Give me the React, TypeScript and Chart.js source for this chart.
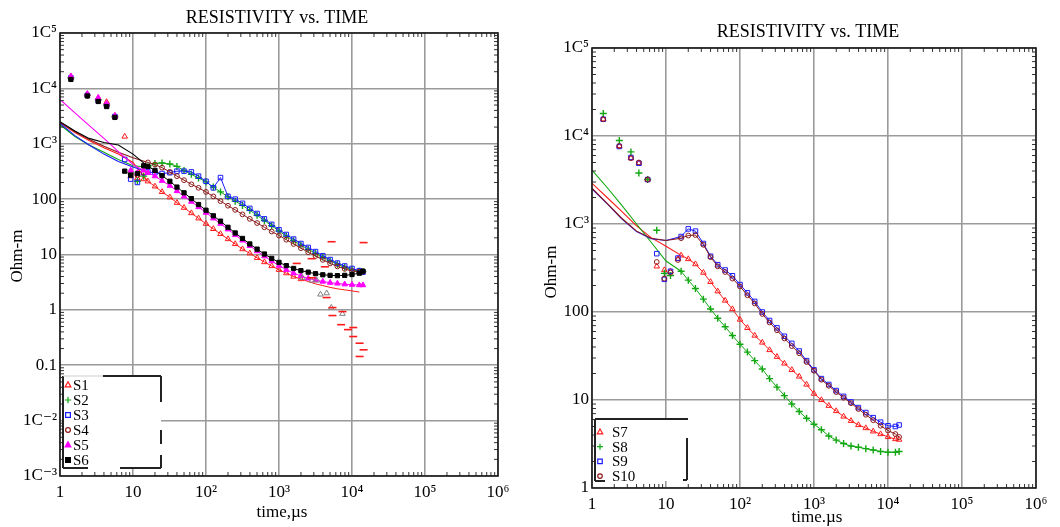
import React, { useEffect, useRef } from "react";
import { Chart, registerables } from "chart.js";

Chart.register(...registerables);

const SERIF = "'Liberation Serif', 'DejaVu Serif', serif";

// ---------- axis ticks ----------
const X_TICKS = [1, 10, 100, 1000, 10000, 100000, 1000000];
const X_TICK_LABELS = ["1", "10", "10²", "10³", "10⁴", "10⁵", "10⁶"];
const Y_TICKS_LEFT = [0.001, 0.01, 0.1, 1, 10, 100, 1000, 10000, 100000];
const Y_TICK_LABELS_LEFT = ["1C⁻³", "1C⁻²", "0.1", "1", "10", "100", "1C³", "1C⁴", "1C⁵"];
const Y_TICKS_RIGHT = [1, 10, 100, 1000, 10000, 100000];
const Y_TICK_LABELS_RIGHT = ["1", "10", "100", "1C³", "1C⁴", "1C⁵"];

// ---------- time grids (µs) ----------
const T_MAIN = [16, 20, 25, 32, 40, 50, 63, 79, 100, 126, 158, 200, 251, 316, 398, 501, 631, 794, 1000, 1259, 1585, 1995, 2512, 3162, 3981, 5012, 6310, 7943, 10000, 12589, 14125];
const T_EARLY = [1, 1.6, 2.5, 4, 6.3, 10, 16];
const T_SCAT_LEFT = [1.41, 2.37, 3.34, 4.35, 5.65, 7.7, 9.3, 11.5, 14];
const T_SCAT_RIGHT = [1.42, 2.34, 3.36, 4.3, 5.65, 7.5, 9.5, 11.5, 14.5];

// ---------- left chart series (Ohm-m) ----------
const S1_MAIN = [210, 170, 135, 108, 86, 70, 56, 45, 36, 29, 23.5, 19, 15.5, 12.5, 10.5, 8.7, 7.3, 6.2, 5.3, 4.6, 4.0, 3.6, null, null, null, null, null, null, null, null, null];
const S1_TAIL = [null, null, null, null, null, null, null, null, null, null, null, null, null, null, null, null, null, null, null, null, null, 3.6, 3.25, 2.95, 2.75, 2.55, 2.4, 2.3, 2.2, 2.1, null];
const S1_EARLY = [2400, 1600, 1150, 850, 650, 460, 210];
const S1_SCAT = [16500, 7800, 6700, 5700, 3200, 1350, 260, 240, 230];

const S2_MAIN = [380, 440, 450, 430, 390, 330, 280, 240, 205, 165, 135, 110, 92, 77, 63, 51, 41, 33, 26.5, 21.5, 17.8, 14.8, 12.4, 10.5, 9.0, 7.7, 6.7, 5.9, 5.3, 5.0, 4.9];
const S2_EARLY = [2200, 1350, 950, 700, 520, 400, 380];
const S2_SCAT = [15500, 7600, 6200, 5000, 3100, null, 300, 210, 260];

const S3_MAIN = [310, 300, 290, 300, 320, 320, 310, 260, 210, 160, 245, 112, 100, 84, 68, 55, 44, 35, 28, 23, 19, 15.8, 13.4, 11.3, 9.5, 8.1, 7.0, 6.2, 5.6, 5.1, 4.8];
const S3_EARLY = [2350, 1400, 950, 650, 480, 380, 310];
const S3_SCAT = [15500, 7500, 6000, 4900, 3100, 520, 230, 200, 300];

const S4_MAIN = [460, 420, 370, 310, 260, 220, 185, 160, 135, 112, 92, 76, 64, 53, 44, 37, 31, 26, 22, 18.5, 15.5, 13, 11, 9.4, 8.0, 6.9, 6.1, 5.5, 5.0, 4.9, 4.9];
const S4_EARLY = [2450, 1650, 1200, 900, 700, 560, 460];
const S4_SCAT = [15000, 7400, 6000, 4800, 3000, null, 280, 270, 300];

const S5_MAIN = [300, 260, 215, 175, 140, 112, 90, 72, 57, 45, 36, 28.5, 22.5, 18, 14.3, 11.5, 9.3, 7.6, 6.3, 5.3, 4.6, 4.1, 3.7, 3.45, 3.25, 3.1, 3.0, 2.9, 2.85, 2.8, 2.8];
const S5_EARLY = [6300, 3600, 2150, 1250, 720, 420, 300];
const S5_SCAT = [16500, 8000, 6800, 5300, 3200, null, 330, 300, 330];

const S6_MAIN = [390, 330, 265, 210, 165, 130, 102, 80, 63, 50, 40, 31, 24.5, 19.5, 15.5, 12.5, 10.2, 8.5, 7.2, 6.3, 5.6, 5.1, 4.8, 4.5, 4.3, 4.2, 4.15, 4.2, 4.35, 4.6, 5.0];
const S6_EARLY = [2500, 1700, 1250, 1050, 950, 650, 390];
const S6_SCAT = [14500, 7300, 5800, 4700, 3000, 320, 270, 290, 400];

// extra late-time marks on the left chart
const GRAY_T = [2100, 2800, 3300, 3700, 4500, 5200, 7400];
const GRAY_V = [3.8, 3.4, 3.4, 1.9, 2.0, 1.1, 0.85];
const DASH_T = [1750, 2800, 4250, 5250, 14400, 2800, 4500, 5400, 5400, 7400, 7100, 8800, 10400, 10400, 12700, 14400, 12700];
const DASH_V = [6.9, 8.4, 6.0, 17, 16.4, 3.8, 1.67, 1.1, 0.79, 0.93, 0.54, 0.44, 0.48, 0.33, 0.25, 0.19, 0.144];

// ---------- right chart series (Ohm-m) ----------
const S7_MAIN = [440, 400, 350, 280, 220, 172, 135, 108, 82, 66, 54, 45, 37, 31, 26, 22, 18.5, 15, 11.8, 10.0, 8.6, 7.5, 6.5, 5.8, 5.2, 4.8, 4.4, 4.1, 3.8, 3.6, 3.55];
const S7_EARLY = [2900, 2000, 1400, 950, 700, 560, 440];
const S7_SCAT = [15500, 7700, 5600, 4900, 3200, 330, 300, 290, 400];

const S8_MAIN = [290, 230, 185, 140, 108, 85, 68, 54, 43, 35, 28, 22.5, 17.5, 14, 11.2, 9.0, 7.4, 6.2, 5.3, 4.6, 3.9, 3.5, 3.2, 3.0, 2.9, 2.8, 2.7, 2.6, 2.55, 2.55, 2.6];
const S8_EARLY = [4100, 2600, 1650, 1000, 620, 380, 290];
const S8_SCAT = [18000, 8900, 6600, 3800, 3200, 850, 275, 260, null];

const S9_MAIN = [720, 880, 830, 600, 430, 345, 300, 258, 205, 165, 132, 100, 80, 66, 53, 44, 36, 28, 22, 17.5, 15, 12.8, 11, 9.5, 8.2, 7.2, 6.3, 5.6, 5.1, 5.0, 5.2];
const S9_EARLY = [2500, 1700, 1150, 820, 680, 650, 720];
const S9_SCAT = [15500, 7600, 5700, 4900, 3200, 460, 235, 290, 410];

const S10_MAIN = [690, 740, 750, 580, 420, 330, 285, 240, 195, 155, 125, 95, 76, 62, 50, 41, 34, 27, 21.5, 17, 14.5, 12.3, 10.6, 9.2, 7.9, 6.8, 5.9, 5.1, 4.5, 4.1, 3.8];
const S10_EARLY = [2550, 1720, 1170, 830, 690, 650, 690];
const S10_SCAT = [15500, 7700, 5600, 5000, 3200, 370, 240, 280, 390];

// ---------- styles ----------
type Sty = { color: string; shape: string; filled: boolean; radius: number };
const RED: Sty = { color: "#ff1a1a", shape: "triangle", filled: false, radius: 3.2 };
const GREEN: Sty = { color: "#12a812", shape: "cross", filled: false, radius: 3.5 };
const BLUE: Sty = { color: "#1a1aff", shape: "rect", filled: false, radius: 3.2 };
const MAROON: Sty = { color: "#8b1a1a", shape: "circle", filled: false, radius: 2.4 };
const MAGENTA: Sty = { color: "#ff00ff", shape: "triangle", filled: true, radius: 3.2 };
const BLACK: Sty = { color: "#000000", shape: "rect", filled: true, radius: 3.0 };
const GRAY: Sty = { color: "#808080", shape: "triangle", filled: false, radius: 3.2 };

function xy(ts: number[], vs: (number | null)[]) {
  return ts.map((t, i) => ({ x: t, y: vs[i] }));
}

function pointOpts(st: Sty) {
  return {
    pointStyle: st.shape,
    pointRadius: st.radius,
    pointBorderColor: st.color,
    pointBackgroundColor: st.filled ? st.color : "rgba(255,255,255,0)",
    pointBorderWidth: st.shape === "cross" ? 1.4 : 1,
  };
}

function seriesSets(st: Sty, order: number, main: any[], early: number[], scat: any[], scatT: number[]) {
  return [
    { data: xy(T_MAIN, main), showLine: true, borderColor: st.color, borderWidth: 1, order, ...pointOpts(st) },
    { data: xy(T_EARLY, early), showLine: true, borderColor: st.color, borderWidth: 1.1, pointRadius: 0, order },
    { data: xy(scatT, scat), showLine: false, order, ...pointOpts(st) },
  ];
}

function drawMarker(ctx: CanvasRenderingContext2D, st: Sty, x: number, y: number, r: number) {
  ctx.save();
  ctx.strokeStyle = st.color;
  ctx.fillStyle = st.color;
  ctx.lineWidth = 1.2;
  ctx.beginPath();
  if (st.shape === "triangle") {
    ctx.moveTo(x, y - r);
    ctx.lineTo(x + r * 0.9, y + r * 0.6);
    ctx.lineTo(x - r * 0.9, y + r * 0.6);
    ctx.closePath();
  } else if (st.shape === "rect") {
    ctx.rect(x - r * 0.75, y - r * 0.75, r * 1.5, r * 1.5);
  } else if (st.shape === "circle") {
    ctx.arc(x, y, r * 0.75, 0, Math.PI * 2);
  } else if (st.shape === "cross") {
    ctx.moveTo(x - r, y);
    ctx.lineTo(x + r, y);
    ctx.moveTo(x, y - r);
    ctx.lineTo(x, y + r);
  }
  if (st.filled) ctx.fill();
  ctx.stroke();
  ctx.restore();
}

const frameAndMinor = {
  id: "frameAndMinor",
  afterDatasetsDraw(chart: any) {
    const { ctx, chartArea: a, scales } = chart;
    ctx.save();
    ctx.strokeStyle = "#333";
    ctx.lineWidth = 1;
    const ticksFor = (scale: any, horizontal: boolean) => {
      const lo = Math.round(Math.log10(scale.min));
      const hi = Math.round(Math.log10(scale.max));
      for (let d = lo; d < hi; d++) {
        for (let k = 2; k <= 9; k++) {
          const p = scale.getPixelForValue(k * Math.pow(10, d));
          ctx.beginPath();
          if (horizontal) {
            ctx.moveTo(p, a.top);
            ctx.lineTo(p, a.top + 4);
            ctx.moveTo(p, a.bottom);
            ctx.lineTo(p, a.bottom - 4);
          } else {
            ctx.moveTo(a.left, p);
            ctx.lineTo(a.left + 4, p);
            ctx.moveTo(a.right, p);
            ctx.lineTo(a.right - 4, p);
          }
          ctx.stroke();
        }
      }
    };
    ticksFor(scales.x, true);
    ticksFor(scales.y, false);
    ctx.strokeStyle = "#1a1a1a";
    ctx.lineWidth = 1.6;
    ctx.strokeRect(a.left, a.top, a.right - a.left, a.bottom - a.top);
    ctx.restore();
  },
};

function decorPlugin(d: any) {
  return {
    id: "decor",
    afterDraw(chart: any) {
      const ctx: CanvasRenderingContext2D = chart.ctx;
      ctx.save();
      ctx.fillStyle = "#000";
      ctx.textAlign = "center";
      ctx.textBaseline = "middle";
      ctx.font = `18px ${SERIF}`;
      ctx.fillText(d.title, d.titleX, d.titleY);
      ctx.font = `17px ${SERIF}`;
      ctx.fillText(d.xLabel, d.xLabelX, d.xLabelY);
      ctx.save();
      ctx.translate(d.yLabelX, d.yLabelY);
      ctx.rotate(-Math.PI / 2);
      ctx.fillText(d.yLabel, 0, 0);
      ctx.restore();

      const L = d.legend;
      ctx.fillStyle = "#fff";
      ctx.fillRect(L.x, L.y, L.w, L.h);
      for (const s of L.segments) {
        ctx.strokeStyle = s[4] || "#222";
        ctx.lineWidth = s[5] || 2;
        ctx.beginPath();
        ctx.moveTo(s[0], s[1]);
        ctx.lineTo(s[2], s[3]);
        ctx.stroke();
      }
      ctx.font = `15px ${SERIF}`;
      ctx.textAlign = "left";
      L.items.forEach((it: any, i: number) => {
        const y = L.rowY + i * L.rowH;
        drawMarker(ctx, it.style, L.markerX, y, L.markerR);
        ctx.fillStyle = "#000";
        ctx.fillText(it.name, L.textX, y + 1);
      });
      ctx.restore();
    },
  };
}

function logAxis(min: number, max: number, ticks: number[], labels: string[], fit: (s: any) => void, padding: number) {
  return {
    type: "logarithmic",
    min,
    max,
    afterBuildTicks: (s: any) => {
      s.ticks = ticks.map((v) => ({ value: v }));
    },
    afterFit: fit,
    ticks: {
      callback: (_v: any, i: number) => labels[i],
      font: { family: SERIF, size: 17 },
      color: "#000",
      autoSkip: false,
      maxRotation: 0,
      padding,
    },
    grid: { color: "#9a9a9a", lineWidth: 1.6, drawTicks: false },
    border: { display: false },
  };
}

function baseOptions(pad: any, x: any, y: any) {
  return {
    animation: false,
    responsive: false,
    maintainAspectRatio: false,
    events: [],
    layout: { padding: pad },
    plugins: { legend: { display: false }, tooltip: { enabled: false }, title: { display: false } },
    scales: { x, y },
  };
}

function buildLeft() {
  const datasets: any[] = [
    ...seriesSets(RED, 10, S1_MAIN, S1_EARLY, S1_SCAT, T_SCAT_LEFT),
    { data: xy(T_MAIN, S1_TAIL), showLine: true, borderColor: RED.color, borderWidth: 1, pointRadius: 0, order: 10 },
    ...seriesSets(GREEN, 9, S2_MAIN, S2_EARLY, S2_SCAT, T_SCAT_LEFT),
    ...seriesSets(BLUE, 8, S3_MAIN, S3_EARLY, S3_SCAT, T_SCAT_LEFT),
    ...seriesSets(MAROON, 7, S4_MAIN, S4_EARLY, S4_SCAT, T_SCAT_LEFT),
    ...seriesSets(MAGENTA, 6, S5_MAIN, S5_EARLY, S5_SCAT, T_SCAT_LEFT),
    ...seriesSets(BLACK, 5, S6_MAIN, S6_EARLY, S6_SCAT, T_SCAT_LEFT),
    { data: xy(GRAY_T, GRAY_V), showLine: false, order: 1, ...pointOpts(GRAY) },
    { data: xy(DASH_T, DASH_V), showLine: false, order: 0, pointStyle: "line", pointRadius: 4, pointBorderColor: "#ff1a1a", pointBorderWidth: 1.6 },
  ];
  const decor = decorPlugin({
    title: "RESISTIVITY vs. TIME", titleX: 277, titleY: 18,
    xLabel: "time,µs", xLabelX: 282, xLabelY: 513,
    yLabel: "Ohm-m", yLabelX: 18, yLabelY: 256,
    legend: {
      x: 63, y: 376, w: 98, h: 92,
      segments: [
        [63, 376, 63, 468],
        [63, 376, 103, 376, "#cfcfcf", 1],
        [103, 376, 161, 376],
        [161, 376, 161, 402],
        [161, 430, 161, 444],
        [161, 455, 161, 468],
        [63, 468, 88, 468],
        [120, 468, 161, 468],
      ],
      markerX: 68, markerR: 3.2, textX: 73, rowY: 385, rowH: 15,
      items: [
        { name: "S1", style: RED }, { name: "S2", style: GREEN }, { name: "S3", style: BLUE },
        { name: "S4", style: MAROON }, { name: "S5", style: MAGENTA }, { name: "S6", style: BLACK },
      ],
    },
  });
  return {
    type: "scatter",
    data: { datasets },
    options: baseOptions(
      { left: 0, right: 32, top: 33, bottom: 0 },
      logAxis(1, 1e6, X_TICKS, X_TICK_LABELS, (s: any) => { s.height = 51; }, 6),
      logAxis(1e-3, 1e5, Y_TICKS_LEFT, Y_TICK_LABELS_LEFT, (s: any) => { s.width = 60; }, 3)
    ),
    plugins: [frameAndMinor, decor],
  };
}

function buildRight() {
  const datasets: any[] = [
    ...seriesSets(RED, 10, S7_MAIN, S7_EARLY, S7_SCAT, T_SCAT_RIGHT),
    ...seriesSets(GREEN, 9, S8_MAIN, S8_EARLY, S8_SCAT, T_SCAT_RIGHT),
    ...seriesSets(BLUE, 8, S9_MAIN, S9_EARLY, S9_SCAT, T_SCAT_RIGHT),
    ...seriesSets(MAROON, 7, S10_MAIN, S10_EARLY, S10_SCAT, T_SCAT_RIGHT),
  ];
  const decor = decorPlugin({
    title: "RESISTIVITY vs. TIME", titleX: 278, titleY: 32,
    xLabel: "time.µs", xLabelX: 287, xLabelY: 518,
    yLabel: "Ohm-m", yLabelX: 22, yLabelY: 272,
    legend: {
      x: 65, y: 419, w: 92, h: 62,
      segments: [
        [65, 419, 158, 419],
        [65, 419, 65, 481],
        [65, 481, 75, 481],
        [157, 438, 157, 480],
        [153, 480, 157, 480],
      ],
      markerX: 70, markerR: 3, textX: 82, rowY: 432, rowH: 14.7,
      items: [
        { name: "S7", style: RED }, { name: "S8", style: GREEN },
        { name: "S9", style: BLUE }, { name: "S10", style: MAROON },
      ],
    },
  });
  return {
    type: "scatter",
    data: { datasets },
    options: baseOptions(
      { left: 0, right: 24, top: 48, bottom: 0 },
      logAxis(1, 1e6, X_TICKS, X_TICK_LABELS, (s: any) => { s.height = 39; }, 6),
      logAxis(1, 1e5, Y_TICKS_RIGHT, Y_TICK_LABELS_RIGHT, (s: any) => { s.width = 62; }, 3)
    ),
    plugins: [frameAndMinor, decor],
  };
}

function Panel({ build, left }: { build: () => any; left: number }) {
  const ref = useRef<HTMLCanvasElement>(null);
  useEffect(() => {
    const chart = new Chart(ref.current as HTMLCanvasElement, build());
    return () => chart.destroy();
  }, []);
  return (
    <canvas
      ref={ref}
      width={530}
      height={527}
      style={{ position: "absolute", left, top: 0, width: 530, height: 527 }}
    />
  );
}

export default function App() {
  return (
    <div style={{ position: "fixed", left: 0, top: 0, width: 1060, height: 527, background: "#fff" }}>
      <Panel build={buildLeft} left={0} />
      <Panel build={buildRight} left={530} />
    </div>
  );
}
